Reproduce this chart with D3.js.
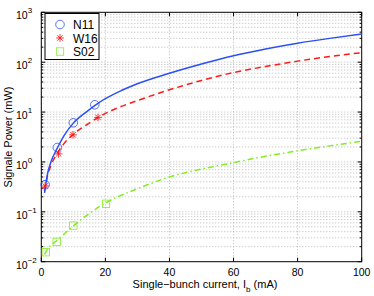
<!DOCTYPE html>
<html>
<head>
<meta charset="utf-8">
<script src="https://cdn.jsdelivr.net/npm/d3@7"></script>
<style>
  body { margin: 0; background: #fff; }
  text { font-family: "Liberation Sans", Arial, sans-serif; }
</style>
</head>
<body>
<svg id="chart" width="374" height="296"></svg>
<script>
// curves: [current (mA), power (mW)]
const n11Curve = [[1,0.24],[2,0.6],[3,1.0],[5,1.9],[7,3.3],[10,6],[14,10],[18,15.5],[25,27],[30,37],[40,60],[50,92],[60,135],[70,184],[80,240],[90,300],[100,367]];
const w16Curve = [[1,0.26],[2,0.55],[3,0.85],[5,1.5],[7,2.3],[10,3.6],[14,5.5],[18,8],[25,13],[30,17],[40,28],[50,43],[60,62],[70,82],[80,105],[90,130],[100,155]];
const s02Curve = [[1,0.014],[2,0.018],[5,0.027],[10,0.052],[20,0.15],[30,0.29],[40,0.5],[50,0.72],[60,0.97],[70,1.3],[80,1.68],[90,2.1],[100,2.6]];

// measured points
const n11Pts = [[1.2,0.35],[5,1.95],[10,6.1],[16.7,14]];
const w16Pts = [[1.2,0.33],[5.4,1.45],[9.9,3.5],[17.7,7.8]];
const s02Pts = [[1.4,0.0155],[4.8,0.025],[10,0.053],[20.2,0.145]];

const xTicks = [0, 20, 40, 60, 80, 100];
const yExps = [-2, -1, 0, 1, 2, 3];
const legendNames = ["N11", "W16", "S02"];

const svg = d3.select("#chart");
const L = 41.3, R = 361.7, T = 12.3, B = 261.7;

const x = d3.scaleLinear().domain([0, 100]).range([L, R]);
const y = d3.scaleLog().domain([1e-2, 1e3]).range([B, T]);

const blue = "#2a4ff5", red = "#ff1a1a", green = "#80ee22";

// grid
const grid = svg.append("g").attr("stroke", "#b8b8b8").attr("stroke-width", 1)
  .attr("stroke-dasharray", "1,2");
xTicks.slice(1, -1).forEach(v => {
  grid.append("line").attr("x1", x(v)).attr("x2", x(v)).attr("y1", T).attr("y2", B);
});
const minor = [];
for (let e = -2; e < 3; e++) for (let m = 1; m <= 9; m++) minor.push(m * Math.pow(10, e));
minor.push(1e3);
minor.filter(v => v > 1e-2 && v < 1e3).forEach(v => {
  grid.append("line").attr("x1", L).attr("x2", R).attr("y1", y(v)).attr("y2", y(v));
});

// ticks (inside, all four sides)
const tk = svg.append("g").attr("stroke", "#000").attr("stroke-width", 1);
xTicks.forEach(v => {
  tk.append("line").attr("x1", x(v)).attr("x2", x(v)).attr("y1", B).attr("y2", B - 4);
  tk.append("line").attr("x1", x(v)).attr("x2", x(v)).attr("y1", T).attr("y2", T + 4);
});
minor.forEach(v => {
  const lg10 = Math.log10(v);
  const len = Math.abs(lg10 - Math.round(lg10)) < 1e-9 ? 4 : 2;
  tk.append("line").attr("x1", L).attr("x2", L + len).attr("y1", y(v)).attr("y2", y(v));
  tk.append("line").attr("x1", R).attr("x2", R - len).attr("y1", y(v)).attr("y2", y(v));
});

// box
svg.append("rect").attr("x", L).attr("y", T).attr("width", R - L).attr("height", B - T)
  .attr("fill", "none").attr("stroke", "#000").attr("stroke-width", 1);

// tick labels
svg.append("g").selectAll("text").data(xTicks).join("text")
  .attr("x", d => x(d)).attr("y", 276).attr("text-anchor", "middle")
  .attr("font-size", 10.5).text(d => d);

const yl = svg.append("g").selectAll("text").data(yExps).join("text")
  .attr("x", 16).attr("y", d => y(Math.pow(10, d)) + 7)
  .attr("font-size", 10.5);
yl.append("tspan").text("10");
yl.append("tspan").attr("dy", -6).attr("font-size", 8).text(d => d < 0 ? "\u2212" + (-d) : d);

// axis titles
const xt = svg.append("text").attr("x", 205).attr("y", 288).attr("text-anchor", "middle")
  .attr("font-size", 11);
xt.append("tspan").text("Single\u2212bunch current, I");
xt.append("tspan").attr("dy", 4).attr("font-size", 8).text("b");
xt.append("tspan").attr("dy", -4).text(" (mA)");

svg.append("text").attr("transform", `translate(12,${(T + B) / 2}) rotate(-90)`)
  .attr("text-anchor", "middle").attr("font-size", 11).text("Signale Power (mW)");

// curves
const line = d3.line().x(d => x(d[0])).y(d => y(d[1])).curve(d3.curveMonotoneX);
const plot = svg.append("g");
plot.append("path").datum(s02Curve).attr("d", line).attr("fill", "none")
  .attr("stroke", green).attr("stroke-width", 1.5).attr("stroke-dasharray", "6,3,1.5,3");
plot.append("path").datum(w16Curve).attr("d", line).attr("fill", "none")
  .attr("stroke", red).attr("stroke-width", 1.5).attr("stroke-dasharray", "6,4");
plot.append("path").datum(n11Curve).attr("d", line).attr("fill", "none")
  .attr("stroke", blue).attr("stroke-width", 1.5);

// markers
function circle(g, px, py) {
  g.append("circle").attr("cx", px).attr("cy", py).attr("r", 4.3)
    .attr("fill", "none").attr("stroke", blue).attr("stroke-width", 0.8);
}
function star(g, px, py) {
  const s = 3.8, d = 2.7;
  const p = `M${px - s},${py}H${px + s}M${px},${py - s}V${py + s}M${px - d},${py - d}L${px + d},${py + d}M${px - d},${py + d}L${px + d},${py - d}`;
  g.append("path").attr("d", p).attr("stroke", red).attr("stroke-width", 0.9).attr("fill", "none");
}
function square(g, px, py) {
  g.append("rect").attr("x", px - 3.7).attr("y", py - 3.7).attr("width", 7.4).attr("height", 7.4)
    .attr("fill", "none").attr("stroke", green).attr("stroke-width", 0.8);
}
n11Pts.forEach(d => circle(plot, x(d[0]), y(d[1])));
w16Pts.forEach(d => star(plot, x(d[0]), y(d[1])));
s02Pts.forEach(d => square(plot, x(d[0]), y(d[1])));

// legend
const lg = svg.append("g");
lg.append("rect").attr("x", 45).attr("y", 13.5).attr("width", 54).attr("height", 46)
  .attr("fill", "#fff").attr("stroke", "#000").attr("stroke-width", 1);
const markFns = [circle, star, square];
legendNames.forEach((n, i) => {
  const ly = 24.5 + i * 13.5;
  markFns[i](lg, 60, ly);
  lg.append("text").attr("x", 73).attr("y", ly + 4.5).attr("font-size", 12).text(n);
});
</script>
</body>
</html>
